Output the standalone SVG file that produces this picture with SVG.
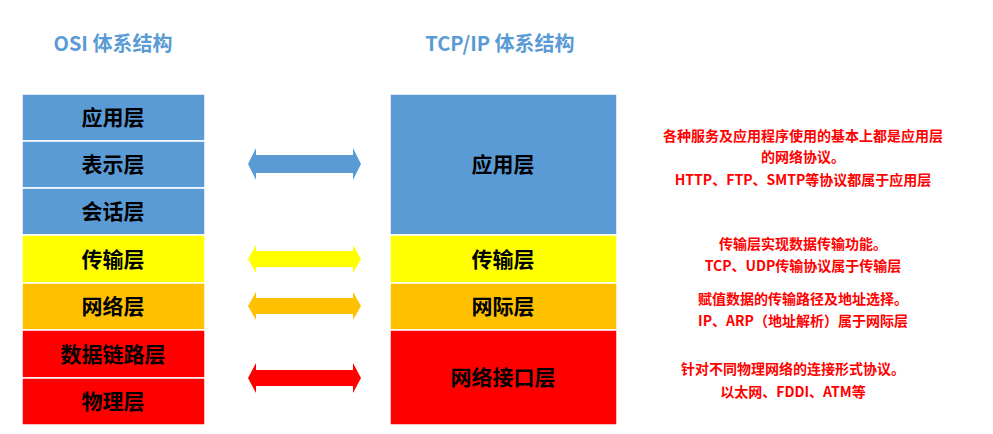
<svg xmlns="http://www.w3.org/2000/svg" width="993" height="434" viewBox="0 0 993 434">
<style>
.t{font-family:"Noto Sans CJK SC","Liberation Sans",sans-serif;font-weight:bold;text-anchor:middle}
.h{fill:#5B9BD5;font-size:20px}
.l{fill:#000;font-size:21px}
.r{fill:#FF0000;font-size:14px}
rect{stroke:#fff;stroke-width:1.5}
</style>
<rect width="993" height="434" fill="#fff" stroke="none"/>
<text class="t h" x="113" y="51">OSI 体系结构</text>
<text class="t h" x="500" y="51">TCP/IP 体系结构</text>
<g id="osi">
<g id="o1"><rect x="22" y="94" width="183" height="47" fill="#5B9BD5"/><text class="t l" x="113" y="125">应用层</text></g>
<g id="o2"><rect x="22" y="141" width="183" height="47" fill="#5B9BD5"/><text class="t l" x="113" y="172">表示层</text></g>
<g id="o3"><rect x="22" y="188" width="183" height="47" fill="#5B9BD5"/><text class="t l" x="113" y="219">会话层</text></g>
<g id="o4"><rect x="22" y="235" width="183" height="48" fill="#FFFF00"/><text class="t l" x="113" y="267">传输层</text></g>
<g id="o5"><rect x="22" y="283" width="183" height="47" fill="#FFC000"/><text class="t l" x="113" y="314">网络层</text></g>
<g id="o6"><rect x="22" y="330" width="183" height="48" fill="#FF0000"/><text class="t l" x="113" y="362">数据链路层</text></g>
<g id="o7"><rect x="22" y="378" width="183" height="47" fill="#FF0000"/><text class="t l" x="113" y="409">物理层</text></g>
</g>
<g id="tcp">
<g id="t1"><rect x="390" y="94" width="227" height="141" fill="#5B9BD5"/><text class="t l" x="503" y="172">应用层</text></g>
<g id="t2"><rect x="390" y="235" width="227" height="48" fill="#FFFF00"/><text class="t l" x="503" y="267">传输层</text></g>
<g id="t3"><rect x="390" y="283" width="227" height="47" fill="#FFC000"/><text class="t l" x="503" y="314">网际层</text></g>
<g id="t4"><rect x="390" y="330" width="227" height="95" fill="#FF0000"/><text class="t l" x="503" y="385">网络接口层</text></g>
</g>
<g id="connectors">
<path d="M248,164 L256,148 L256,155 L353,155 L353,148 L361,164 L353,180 L353,173 L256,173 L256,180 Z" fill="#5B9BD5"/>
<path d="M248,259 L256,245 L256,251 L353,251 L353,245 L361,259 L353,273 L353,267 L256,267 L256,273 Z" fill="#FFFF00"/>
<path d="M248,306 L256,292 L256,298 L353,298 L353,292 L361,306 L353,320 L353,314 L256,314 L256,320 Z" fill="#FFC000"/>
<path d="M248,378 L256,363 L256,370 L353,370 L353,363 L361,378 L353,393 L353,386 L256,386 L256,393 Z" fill="#FF0000"/>
</g>
<g id="notes">
<text class="t r" x="803" y="141">各种服务及应用程序使用的基本上都是应用层</text>
<text class="t r" x="803" y="162">的网络协议。</text>
<text class="t r" x="803" y="185">HTTP、FTP、SMTP等协议都属于应用层</text>
<text class="t r" x="803" y="249">传输层实现数据传输功能。</text>
<text class="t r" x="803" y="271">TCP、UDP传输协议属于传输层</text>
<text class="t r" x="803" y="304">赋值数据的传输路径及地址选择。</text>
<text class="t r" x="803" y="326">IP、ARP（地址解析）属于网际层</text>
<text class="t r" x="793" y="374">针对不同物理网络的连接形式协议。</text>
<text class="t r" x="793" y="397">以太网、FDDI、ATM等</text>
</g>
</svg>
